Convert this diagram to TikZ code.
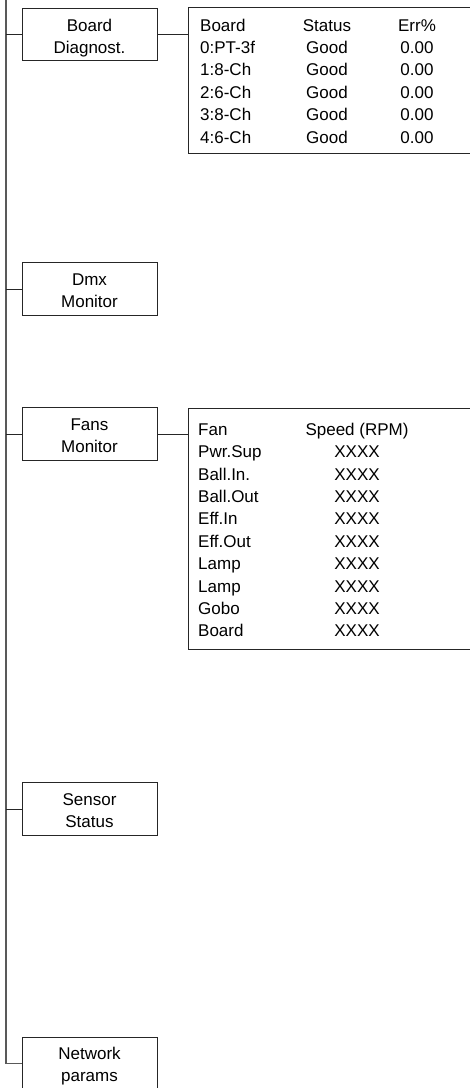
\documentclass[tikz,border=0pt]{standalone}
\usepackage{fontspec}
\setmainfont{Liberation Sans}
\newcommand{\bxtext}[2]{\rule{0pt}{18.7pt}#1\\#2\rule[-3.6pt]{0pt}{3.6pt}}
\begin{document}
\begin{tikzpicture}[x=1pt,y=-1pt,
  menubox/.style={draw=black!85,line width=0.9pt,minimum width=135pt,minimum height=52.5pt,inner sep=0pt,align=center,font=\fontsize{17}{22.3}\selectfont},
  panel/.style={draw=black!85,line width=0.9pt,anchor=north west,inner sep=0pt},
  link/.style={draw=black!85,line width=0.9pt},
  trunk/.style={draw=black!65,line width=1.1pt},
  txt/.style={font=\fontsize{17}{19}\selectfont,inner sep=0pt,anchor=base},
  txtl/.style={txt,anchor=base west}]
\useasboundingbox (0,0) rectangle (470,1088);
\clip (0,0) rectangle (470,1088);

% menu boxes
\node[menubox] (bd) at (89.5,34.6) {\bxtext{Board}{Diagnost.}};
\node[menubox] (dmx) at (89.5,289) {\bxtext{Dmx}{Monitor}};
\node[menubox] (fans) at (89.5,434) {\bxtext{Fans}{Monitor}};
\node[menubox] (sens) at (89.5,809) {\bxtext{Sensor}{Status}};
\node[menubox] (net) at (89.5,1063.2) {\bxtext{Network}{params}};

% trunk
\coordinate (top) at (6,-2);
\draw[trunk] (top) |- (net.west);
\draw[link] (bd.west -| top) -- (bd.west);
\draw[link] (dmx.west -| top) -- (dmx.west);
\draw[link] (fans.west -| top) -- (fans.west);
\draw[link] (sens.west -| top) -- (sens.west);

% panels
\node[panel,minimum width=300pt,minimum height=145.4pt] (p1) at (188,7.3) {};
\node[panel,minimum width=300pt,minimum height=241pt] (p2) at (188,408) {};
\draw[link] (bd.east) -- (bd.east -| p1.west);
\draw[link] (fans.east) -- (fans.east -| p2.west);

% panel 1 text
\node[txtl] (b0) at (200,31) {Board};
\node[txt] (s0) at (327,31) {Status};
\node[txt] (e0) at (417,31) {Err\%};
\node[txtl] (b1) at (200,53.4) {0:PT-3f};
\node[txt] (s1) at (327,53.4) {Good};
\node[txt] (e1) at (417,53.4) {0.00};
\node[txtl] (b2) at (200,75.8) {1:8-Ch};
\node[txt] (s2) at (327,75.8) {Good};
\node[txt] (e2) at (417,75.8) {0.00};
\node[txtl] (b3) at (200,98.2) {2:6-Ch};
\node[txt] (s3) at (327,98.2) {Good};
\node[txt] (e3) at (417,98.2) {0.00};
\node[txtl] (b4) at (200,120.6) {3:8-Ch};
\node[txt] (s4) at (327,120.6) {Good};
\node[txt] (e4) at (417,120.6) {0.00};
\node[txtl] (b5) at (200,143) {4:6-Ch};
\node[txt] (s5) at (327,143) {Good};
\node[txt] (e5) at (417,143) {0.00};

% panel 2 text
\node[txtl] (f0) at (198,435.3) {Fan};
\node[txt] (r0) at (357,435.3) {Speed (RPM)};
\foreach \n [count=\i] in {Pwr.Sup,Ball.In.,Ball.Out,Eff.In,Eff.Out,Lamp,Lamp,Gobo,Board}{
  \node[txtl] (f\i) at (198,{435.3+22.4*\i}) {\n};
  \node[txt] (r\i) at (357,{435.3+22.4*\i}) {XXXX};
}
\end{tikzpicture}
\end{document}
